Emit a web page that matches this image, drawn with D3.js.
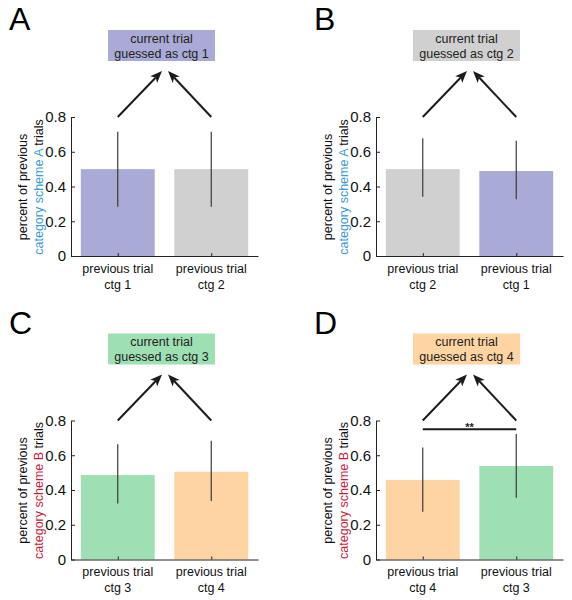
<!DOCTYPE html>
<html><head><meta charset="utf-8">
<script src="https://cdn.jsdelivr.net/npm/d3@7"></script>
<style>body{margin:0;background:#fff}svg{display:block;font-family:Arial,"Liberation Sans",sans-serif}</style>
</head><body>
<svg id="c" width="572" height="600"></svg>
<script>
const panelLetters = ["A", "B", "C", "D"];
const guessedCtg = ["ctg 1", "ctg 2", "ctg 3", "ctg 4"];
const categories = [["ctg 1", "ctg 2"], ["ctg 2", "ctg 1"], ["ctg 3", "ctg 4"], ["ctg 4", "ctg 3"]];
const means = [[0.500, 0.500], [0.500, 0.489], [0.486, 0.505], [0.458, 0.538]];
const errLow = [[0.284, 0.284], [0.341, 0.326], [0.323, 0.336], [0.275, 0.355]];
const errHigh = [[0.715, 0.715], [0.677, 0.664], [0.664, 0.683], [0.644, 0.723]];
const schemes = ["A", "A", "B", "B"];
const yTicks = [0, 0.2, 0.4, 0.6, 0.8];
const significance = [null, null, null, {label: "**", y: 0.75}];

const ctgColor = {"ctg 1": "#a9aad5", "ctg 2": "#cfd0cf", "ctg 3": "#9fdfb4", "ctg 4": "#fdd4a2"};
const schemeColor = {"A": "#3a9ad8", "B": "#c81d3c"};
const offsets = [[0, 0], [305, 0], [0, 303.5], [305, 303.5]];

const svg = d3.select("#c");

panelLetters.forEach((L, i) => {
  const g = svg.append("g").attr("transform", `translate(${offsets[i][0]},${offsets[i][1]})`);
  const y = d3.scaleLinear().domain([0, 0.8]).range([256, 117]);
  const x = d3.scalePoint().domain(categories[i]).range([71, 258]).padding(0.5);
  const bw = x.step() * 0.79;

  // panel letter
  g.append("text").attr("x", 9).attr("y", 30).attr("font-size", 32).attr("fill", "#000").text(L);

  // bars
  g.selectAll("rect.bar").data(categories[i]).join("rect")
    .attr("x", d => x(d) - bw / 2).attr("width", bw)
    .attr("y", (d, j) => y(means[i][j])).attr("height", (d, j) => y(0) - y(means[i][j]))
    .attr("fill", d => ctgColor[d]);

  // error bars
  g.selectAll("line.err").data(categories[i]).join("line")
    .attr("x1", d => x(d)).attr("x2", d => x(d))
    .attr("y1", (d, j) => y(errLow[i][j])).attr("y2", (d, j) => y(errHigh[i][j]))
    .attr("stroke", "#3a3a3a").attr("stroke-width", 1.2);

  // axes
  const ya = g.append("g").attr("transform", "translate(71,0)")
    .call(d3.axisLeft(y).tickValues(yTicks).tickFormat(d => d === 0 ? "0" : d3.format(".1f")(d))
      .tickSizeInner(-4).tickSizeOuter(0).tickPadding(5));
  ya.selectAll("text").attr("font-size", 15).attr("fill", "#111").attr("font-family", "Arial, 'Liberation Sans', sans-serif");
  ya.selectAll("path,line").attr("stroke", "#222");

  const xa = g.append("g").attr("transform", "translate(0,256)")
    .call(d3.axisBottom(x).tickSizeInner(-3).tickSizeOuter(0).tickFormat(""));
  xa.selectAll("path,line").attr("stroke", "#222");

  // x labels
  categories[i].forEach(c => {
    const t = g.append("text").attr("text-anchor", "middle").attr("font-size", 12.5).attr("fill", "#111");
    t.append("tspan").attr("x", x(c)).attr("y", 272.5).text("previous trial");
    t.append("tspan").attr("x", x(c)).attr("y", 288.5).text(c);
  });

  // y label
  const yl = g.append("text").attr("transform", "rotate(-90)").attr("text-anchor", "middle").attr("font-size", 12.5).attr("fill", "#111");
  yl.append("tspan").attr("x", -187).attr("y", 27).text("percent of previous");
  const l2 = g.append("text").attr("transform", "rotate(-90)").attr("text-anchor", "middle").attr("font-size", 12.5).attr("x", -187).attr("y", 42.5);
  l2.append("tspan").attr("fill", schemeColor[schemes[i]]).text(`category scheme ${schemes[i]}`);
  l2.append("tspan").attr("fill", "#111").text(" trials");

  // box
  g.append("rect").attr("x", 108).attr("y", 30).attr("width", 107).attr("height", 31).attr("fill", ctgColor[guessedCtg[i]]);
  const bt = g.append("text").attr("text-anchor", "middle").attr("font-size", 12.5).attr("fill", "#222");
  bt.append("tspan").attr("x", 161.5).attr("y", 42.5).text("current trial");
  bt.append("tspan").attr("x", 161.5).attr("y", 57.5).text(`guessed as ${guessedCtg[i]}`);

  // arrows
  const tips = [[162, 71], [168, 71]];
  categories[i].forEach((c, j) => {
    const x0 = x(c), y0 = y(0.8), [x1, y1] = tips[j];
    const ang = Math.atan2(y1 - y0, x1 - x0);
    const len = 12, half = 4.8, notch = 9;
    const ux = Math.cos(ang), uy = Math.sin(ang), px = -uy, py = ux;
    g.append("line").attr("x1", x0).attr("y1", y0)
      .attr("x2", x1 - ux * notch).attr("y2", y1 - uy * notch)
      .attr("stroke", "#1c1c1c").attr("stroke-width", 2);
    const p = [
      [x1, y1],
      [x1 - ux * len + px * half, y1 - uy * len + py * half],
      [x1 - ux * notch, y1 - uy * notch],
      [x1 - ux * len - px * half, y1 - uy * len - py * half]
    ];
    g.append("path").attr("d", "M" + p.map(q => q.join(",")).join("L") + "Z").attr("fill", "#1c1c1c");
  });

  // significance
  const s = significance[i];
  if (s) {
    const xa0 = x(categories[i][0]), xa1 = x(categories[i][1]);
    g.append("line").attr("x1", xa0).attr("x2", xa1).attr("y1", y(s.y)).attr("y2", y(s.y))
      .attr("stroke", "#1c1c1c").attr("stroke-width", 2);
    g.append("text").attr("x", (xa0 + xa1) / 2).attr("y", y(s.y) + 1.5).attr("text-anchor", "middle")
      .attr("font-size", 11).attr("font-weight", "bold").attr("fill", "#222").text(s.label);
  }
});
</script>
</body></html>
